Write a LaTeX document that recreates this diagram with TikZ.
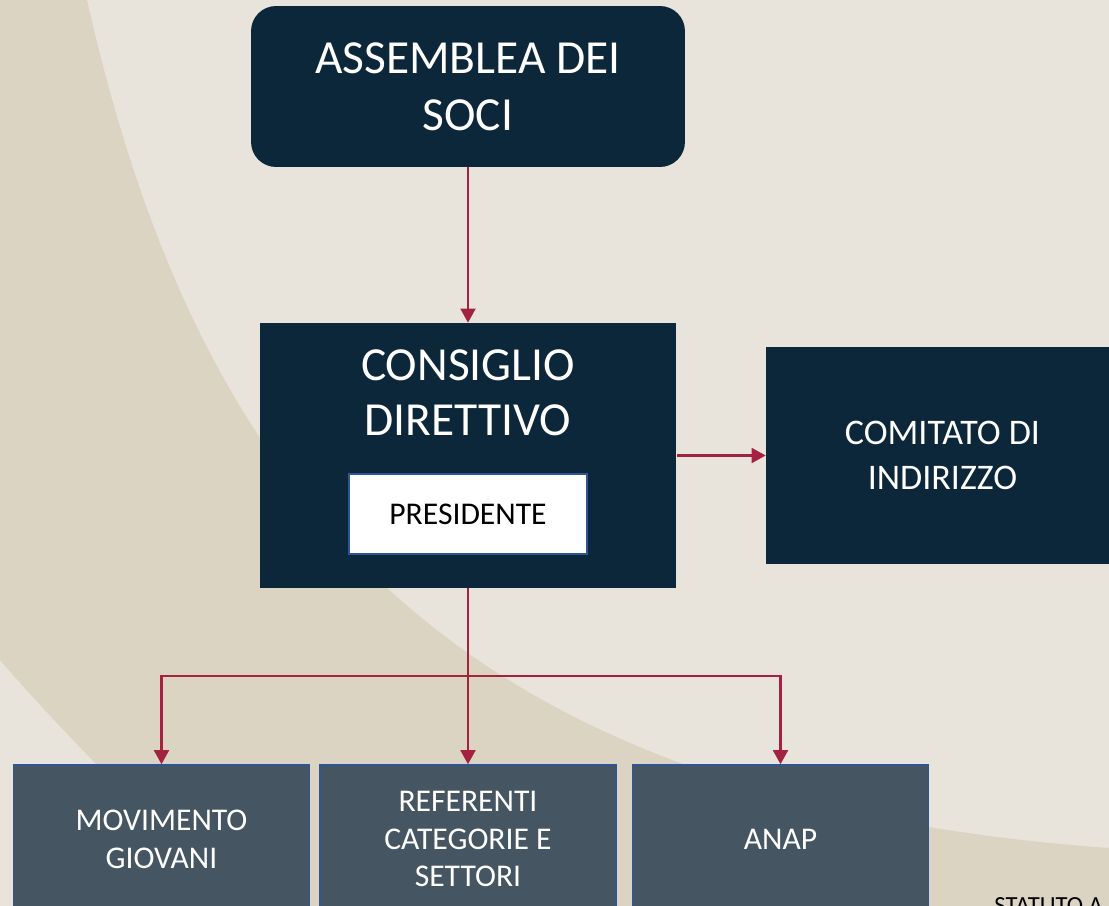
\documentclass[tikz,border=0pt]{standalone}
\usepackage{fontspec}
\setmainfont{Carlito}
\usepackage{xcolor}
\usepackage{tikz}
\usetikzlibrary{arrows.meta,backgrounds,positioning,calc}
\definecolor{navy}{HTML}{0C263A}
\definecolor{slate}{HTML}{3D4F5C}
\definecolor{edgeblue}{HTML}{2F5597}
\definecolor{wine}{HTML}{A2223F}
\definecolor{paper}{HTML}{E8E4DC}
\definecolor{sand}{HTML}{DBD4C3}
\tikzset{% 
  organ box/.style={%
    fill=navy,
    text=white,
    align=center,
    inner sep=0pt
  }
}
\tikzset{% 
  chair box/.style={%
    fill=white,
    draw=edgeblue,
    line width=1.1pt,
    inner sep=0pt,
    font=\fontsize{18}{21.6}\selectfont
  }
}
\tikzset{% 
  unit box/.style={%
    fill=slate,
    fill opacity=0.95,
    text opacity=1,
    draw=edgeblue,
    line width=0.9pt,
    text=white,
    align=center,
    inner sep=0pt,
    minimum width=5.92cm,
    minimum height=2.96cm,
    font=\fontsize{18}{21.6}\selectfont
  }
}
\tikzset{% 
  link/.style={%
    draw=wine,
    line width=1.2pt,
    -{Triangle[width=8.5pt,length=8pt]}
  }
}
\tikzset{% 
  wire/.style={%
    draw=wine,
    line width=1.2pt
  }
}

\begin{document}
\begin{tikzpicture}[x=0.02cm,y=-0.02cm]
  \useasboundingbox (0,0) rectangle (1109,906);
  \clip (0,0) rectangle (1109,906);
  % background
  \fill [paper] (0,0) rectangle (1109,906);
  \fill [sand] (0,0) -- (87,0) .. controls (200,500) and (450,800) .. (1109,848)
    -- (1109,906) -- (240,906) .. controls (160,830) and (60,730) .. (0,660) -- cycle;
  % boxes
  \node [organ box, rounded corners=0.5cm, minimum width=8.68cm, minimum height=3.22cm,
         font=\fontsize{27}{32.4}\selectfont] (assemblea) at (468,86.5) {ASSEMBLEA DEI\\SOCI};
  \node [organ box, minimum width=8.34cm, minimum height=5.3cm] (consiglio) at (468,455.5) {};
  \node [text=white, align=center, font=\fontsize{27}{31.3}\selectfont] (consigliotitle) at (468,393) {CONSIGLIO\\DIRETTIVO};
  \node [chair box, minimum width=4.76cm, minimum height=1.6cm] (presidente) at (468,514) {PRESIDENTE};
  \node [organ box, minimum width=7.06cm, minimum height=4.34cm,
         font=\fontsize{20.5}{25.6}\selectfont] (comitato) at (942.5,455.5) {COMITATO DI\\INDIRIZZO};
  \node [unit box] (movimento) at (161.5,839) {MOVIMENTO\\GIOVANI};
  \node [unit box] (referenti) at (468,839) {REFERENTI\\CATEGORIE E\\SETTORI};
  \node [unit box] (anap) at (780.5,839) {ANAP};
  \node [anchor=base west, inner sep=0pt, font=\fontsize{14}{17}\selectfont] (statuto) at (994,913) {STATUTO A};
  % connectors
  \coordinate (branch) at (468,676);
  \draw [link] (assemblea.south) -- (consiglio.north);
  \draw [link] (consiglio.east) -- (comitato.west);
  \draw [wire] (consiglio.south) -- (branch);
  \draw [link] (branch) -| (movimento.north);
  \draw [link] (branch) -- (referenti.north);
  \draw [link] (branch) -| (anap.north);
\end{tikzpicture}
\end{document}
